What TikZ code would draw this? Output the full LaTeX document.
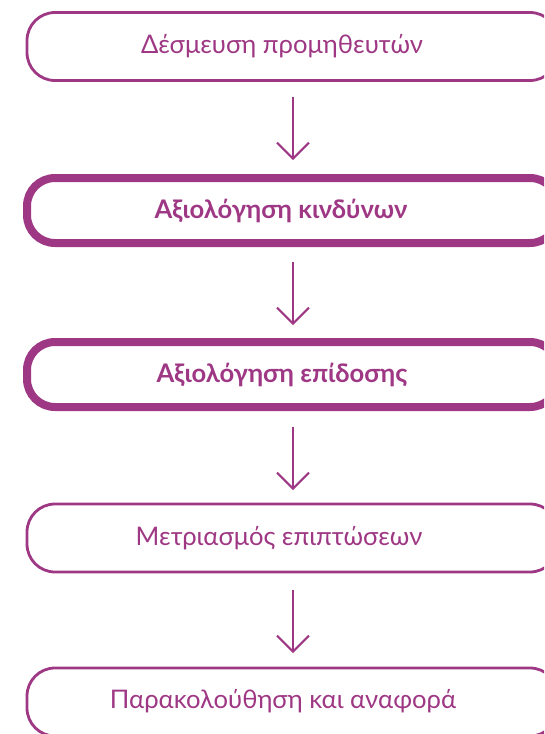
\documentclass[tikz,border=0pt]{standalone}
\usepackage{fontspec}
\setmainfont{Lato}
\usetikzlibrary{arrows.meta}
\definecolor{plum}{RGB}{158,56,132}
\begin{document}
\begin{tikzpicture}[x=1pt,y=-1pt,
  stepbox/.style={draw=plum, rounded corners=28pt, minimum width=531pt, inner sep=0pt},
  thinbox/.style={stepbox, line width=2.8pt, minimum height=68pt},
  thickbox/.style={stepbox, line width=8pt, minimum height=65pt},
  lbl/.style={text=plum, font=\fontsize{25.6}{30}\selectfont, inner sep=0pt},
  blbl/.style={lbl, font=\fontsize{25.6}{30}\selectfont\bfseries},
  arr/.style={draw=plum, line width=2pt, -{Straight Barb[length=16pt,width=32pt,line width=2pt]}}
]
\useasboundingbox (0,0) rectangle (544,734);
\clip (0,0) rectangle (544,734);
\node[thinbox]  (b1) at (292.5,46.5) {};
\node[thickbox] (b2) at (292.5,210.5) {};
\node[thickbox] (b3) at (292.5,374.5) {};
\node[thinbox]  (b4) at (292.5,538) {};
\node[thinbox]  (b5) at (292.5,702) {};
\node[lbl]  (t1) at (282,46) {Δέσμευση προμηθευτών};
\node[blbl] (t2) at (281,211) {Αξιολόγηση κινδύνων};
\node[blbl] (t3) at (282,375) {Αξιολόγηση επίδοσης};
\node[lbl]  (t4) at (279,538) {Μετριασμός επιπτώσεων};
\node[lbl]  (t5) at (283,701) {Παρακολούθηση και αναφορά};
\coordinate (a1s) at (293,97);  \coordinate (a1e) at (293,160);
\coordinate (a2s) at (293,262); \coordinate (a2e) at (293,325);
\coordinate (a3s) at (293,427); \coordinate (a3e) at (293,490);
\coordinate (a4s) at (293,590); \coordinate (a4e) at (293,653);
\draw[arr] (a1s) -- (a1e);
\draw[arr] (a2s) -- (a2e);
\draw[arr] (a3s) -- (a3e);
\draw[arr] (a4s) -- (a4e);
\end{tikzpicture}
\end{document}
